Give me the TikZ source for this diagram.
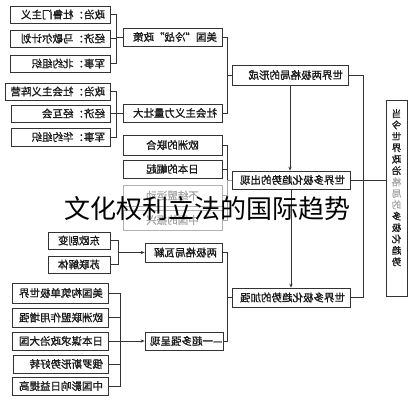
\documentclass[tikz,border=0pt]{standalone}
\usepackage{graphicx}
\usepackage{fontspec}
\usetikzlibrary{arrows.meta}
\newfontfamily\cjk{Noto Sans CJK SC}[FakeBold=1.2]
\newfontfamily\wmfont{Noto Sans CJK SC}
\newcommand\rf[1]{\reflectbox{#1}}
\lineskiplimit=-20pt\relax
\lineskip=0pt\relax
\tikzset{
  box/.style={draw=black!80, line width=0.7pt, inner ysep=0pt, inner xsep=5pt,
    font=\cjk\fontsize{10.5}{12}\selectfont, text=black!90, fill=white},
  faded/.style={draw=black!30, text=black!35},
  ln/.style={draw=black!80, line width=0.7pt},
  arr/.style={-{Stealth[length=4pt,width=3.2pt]}},
}
\newcommand\mybx[7][]{%
  \pgfmathsetmacro\cx{(#3+#5)/2}\pgfmathsetmacro\cy{(#4+#6)/2}%
  \pgfmathsetmacro\ww{#5-#3}\pgfmathsetmacro\hh{#6-#4}\pgfmathsetmacro\tw{#5-#3-10}%
  \node[box, minimum width=\ww pt, minimum height=\hh pt, text width=\tw pt, #1] (#2) at (\cx,\cy) {\rf{#7}};}
\begin{document}
\begin{tikzpicture}[x=1pt,y=-1pt]
\useasboundingbox (0,0) rectangle (411,400);
% top group
\mybx[align=right]{A1}{10}{6}{110}{23}{政治：杜鲁门主义}
\mybx[align=right]{A2}{10}{30}{110}{47}{经济：马歇尔计划}
\mybx[align=right]{A3}{10}{55}{110}{72}{军事：北约组织}
\mybx[align=right]{A}{123}{28}{222}{46}{美国“冷战”政策}
\mybx[align=right]{B1}{5}{83}{110}{100}{政治：社会主义阵营}
\mybx[align=right]{B2}{11}{105}{110}{122}{经济：经互会}
\mybx[align=right]{B3}{11}{128}{110}{146}{军事：华约组织}
\mybx[align=right]{B}{123}{104}{222}{122}{社会主义力量壮大}
\mybx[align=right]{F1}{232}{65}{348}{85}{世界两极格局的形成}
% middle group
\mybx[align=center]{C1}{123}{135}{222}{155}{欧洲的联合}
\mybx[align=center]{C2}{123}{160}{222}{178}{日本的崛起}
\mybx[align=center,faded]{C3}{123}{185}{222}{206}{不结盟运动}
\mybx[align=center,faded]{C4}{123}{210}{222}{230}{中国的振兴}
\mybx[align=right]{F2}{232}{171}{350}{189}{世界多极化趋势的出现}
% bottom groups
\mybx[align=center]{D1}{48}{232}{110}{249}{东欧剧变}
\mybx[align=center]{D2}{48}{256}{110}{273}{苏联解体}
\mybx[align=right]{D}{145}{243}{222}{262}{两极格局瓦解}
\mybx[align=right]{E1}{12}{283}{108}{303}{美国构筑单极世界}
\mybx[align=right]{E2}{12}{308}{108}{327}{欧洲联盟作用增强}
\mybx[align=right]{E3}{12}{332}{108}{350}{日本谋求政治大国}
\mybx[align=right]{E4}{13}{355}{108}{373}{俄罗斯形势好转}
\mybx[align=right]{E5}{12}{377}{108}{395}{中国影响日益提高}
\mybx[align=right]{E}{145}{332}{223}{350}{—一超多强呈现}
\mybx[align=right]{F3}{232}{288}{350}{307}{世界多极化趋势的加强}
% vertical box
\node[draw=black!80, line width=0.7pt, minimum width=21pt, minimum height=196pt, inner sep=0pt] (G) at (396.5,198) {};
\node[anchor=north, inner sep=0pt, align=center, font=\cjk\fontsize{9.5}{11.4}\selectfont, text=black!90] (Gt) at (396.5,109)
 {\rf{当}\\\rf{今}\\\rf{世}\\\rf{界}\\\rf{政}\\\rf{治}\\\textcolor{black!35}{\rf{格}}\\\textcolor{black!35}{\rf{局}}\\\textcolor{black!35}{\rf{的}}\\\rf{多}\\\rf{极}\\\rf{化}\\\rf{趋}\\\rf{势}};
% connectors: top
\draw[ln] (A1.east) -- ++(6,0) |- (A.west);
\draw[ln] (A3.east) -- ++(6,0) |- (A.west);
\draw[ln] (A2.east) -- ++(6,0);
\draw[ln] (B1.east) -- ++(6,0) |- (B.west);
\draw[ln] (B3.east) -- ++(6,0) |- (B.west);
\draw[ln] (B2.east) -- ++(6,0);
\draw[ln] (A.east) -- ++(5,0) |- (F1.west);
\draw[ln] (B.east) -- ++(5,0) |- (F1.west);
% middle
\draw[ln] (C1.east) -- ++(5,0) |- (F2.west);
\draw[ln] (C2.east) -- ++(5,0) |- (F2.west);
\draw[ln,draw=black!35] (C3.east) -- ++(5,0) |- (F2.west);
\draw[ln,draw=black!35] (C4.east) -- ++(5,0) |- (F2.west);
\draw[ln,arr] (F1.south) -- (F1.south |- F2.north);
\draw[ln,arr] (F2.south) -- (F3.north);
\draw[ln] (F1.east) -- ++(15,0) |- (F3.east);
\draw[ln] (F2.east) -- (F2.east -| G.west);
% bottom
\coordinate (dj) at (118,0);
\coordinate (ej) at (120,0);
\draw[ln] (D1.east) -- (D1.east -| dj) |- (D2.east);
\draw[ln,arr] (D.west -| dj) -- (D.west);
\draw[ln] (D.east) -- ++(5,0) |- (F3.west);
\draw[ln] (E.east) -- ++(4,0) |- (F3.west);
\draw[ln] (E1.east) -- (E1.east -| ej) |- (E5.east);
\draw[ln] (E2.east) -- (E2.east -| ej);
\draw[ln] (E4.east) -- (E4.east -| ej);
\draw[ln,arr] (E3.east) -- (E.west);
% watermark
\node[inner sep=0pt, font=\wmfont\fontsize{26}{26}\selectfont] (wm) at (207,209) {文化权利立法的国际趋势};
\end{tikzpicture}
\end{document}
